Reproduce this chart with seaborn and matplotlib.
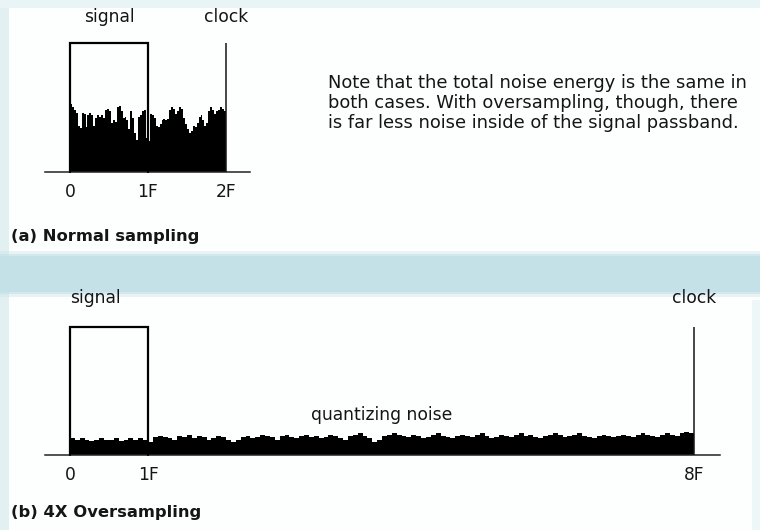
import matplotlib
matplotlib.use("Agg")
import matplotlib.pyplot as plt
from matplotlib.patches import Rectangle
import numpy as np
import pandas as pd
import seaborn as sns

# ---- data -------------------------------------------------------------
signal_band = [0.0, 1.0]          # passband, in units of F
signal_level = 1.0

# (a) normal sampling: noise spread from 0 to 2F, clock at 2F
clock_a = 2.0
noise_a = [
    0.53, 0.50, 0.48, 0.46, 0.36, 0.34, 0.46, 0.45, 0.35, 0.44,
    0.46, 0.44, 0.36, 0.42, 0.44, 0.43, 0.44, 0.42, 0.48, 0.49,
    0.47, 0.38, 0.40, 0.39, 0.50, 0.51, 0.47, 0.42, 0.43, 0.40,
    0.33, 0.47, 0.42, 0.30, 0.25, 0.43, 0.44, 0.47, 0.48, 0.26,
    0.24, 0.45, 0.44, 0.42, 0.36, 0.35, 0.37, 0.40, 0.41, 0.40,
    0.41, 0.48, 0.50, 0.49, 0.45, 0.47, 0.50, 0.49, 0.42, 0.37,
    0.33, 0.30, 0.32, 0.36, 0.35, 0.38, 0.43, 0.44, 0.40, 0.36,
    0.38, 0.47, 0.50, 0.48, 0.45, 0.47, 0.48, 0.50, 0.49, 0.47,
]
ticks_a = [0, 1, 2]
ticklabels_a = ["0", "1F", "2F"]

# (b) 4x oversampling: same noise energy spread from 0 to 8F, clock at 8F
clock_b = 8.0
noise_b = [
    0.13, 0.12, 0.13, 0.12, 0.11, 0.12, 0.13, 0.12, 0.12, 0.13, 0.11, 0.12, 0.13, 0.12, 0.13, 0.12,
    0.10, 0.14, 0.15, 0.14, 0.13, 0.12, 0.15, 0.14, 0.16, 0.13, 0.15, 0.14, 0.12, 0.13, 0.15, 0.14,
    0.12, 0.10, 0.12, 0.14, 0.15, 0.13, 0.14, 0.16, 0.15, 0.14, 0.12, 0.15, 0.16, 0.14, 0.13, 0.15,
    0.16, 0.14, 0.15, 0.13, 0.14, 0.16, 0.15, 0.13, 0.12, 0.15, 0.16, 0.17, 0.15, 0.13, 0.10, 0.12,
    0.15, 0.16, 0.17, 0.16, 0.15, 0.14, 0.16, 0.15, 0.13, 0.14, 0.16, 0.17, 0.15, 0.14, 0.13, 0.15,
    0.16, 0.15, 0.14, 0.16, 0.17, 0.15, 0.13, 0.14, 0.16, 0.15, 0.14, 0.16, 0.17, 0.15, 0.16, 0.14,
    0.13, 0.15, 0.16, 0.17, 0.16, 0.14, 0.15, 0.16, 0.17, 0.15, 0.14, 0.13, 0.15, 0.16, 0.15, 0.14,
    0.15, 0.16, 0.15, 0.14, 0.16, 0.17, 0.16, 0.15, 0.14, 0.16, 0.17, 0.16, 0.15, 0.17, 0.18, 0.17,
]
ticks_b = [0, 1, 8]
ticklabels_b = ["0", "1F", "8F"]

note_lines = [
    "Note that the total noise energy is the same in",
    "both cases. With oversampling, though, there",
    "is far less noise inside of the signal passband.",
]

# ---- style ------------------------------------------------------------
sns.set_theme(style="white")
plt.rcParams["font.family"] = ["DejaVu Sans"]

INK = "#151515"
FS = 12.3

W, H = 760, 530
fig = plt.figure(figsize=(W / 100, H / 100), dpi=100)
fig.patch.set_facecolor("#fdfefe")


def rect(x0, x1, ytop, ybot):
    return [x0 / W, 1 - ybot / H, (x1 - x0) / W, (ybot - ytop) / H]


def fig_band(ytop, ybot, color, alpha=1.0, x0=0, x1=W):
    fig.patches.append(Rectangle((x0 / W, 1 - ybot / H), (x1 - x0) / W, (ybot - ytop) / H,
                                 transform=fig.transFigure, color=color, alpha=alpha,
                                 lw=0, zorder=-5))


# pale tinted margins and the band between the two panels
fig_band(0, H, "#e2f0f2", x1=9)
fig_band(0, 8, "#e8f4f5")
fig_band(300, H, "#eef7f8", x0=752)
fig_band(251, 297, "#c4e1e8", alpha=0.35)
fig_band(254, 294, "#c4e1e8", alpha=0.6)
fig_band(256, 292, "#c4e1e8")


def panel(ax, noise, clock, ticks, ticklabels, xmax):
    n = len(noise)
    step = clock / n
    df = pd.DataFrame({"freq": np.arange(n) * step + step / 2, "level": noise})
    sns.barplot(data=df, x="freq", y="level", native_scale=True, width=1.0,
                color="black", linewidth=0, saturation=1, errorbar=None, ax=ax)
    # signal passband outline
    x0, x1 = signal_band
    ax.plot([x0, x0, x1, x1], [0, signal_level, signal_level, 0],
            color="black", lw=1.6, solid_joinstyle="miter", clip_on=False, zorder=3)
    # clock line
    ax.vlines(clock, 0, signal_level, color=INK, lw=1.1, clip_on=False, zorder=3)

    ax.set_xlim(-0.32, xmax)
    ax.set_ylim(0, 1)
    ax.set_facecolor("none")
    for s in ["top", "left", "right"]:
        ax.spines[s].set_visible(False)
    ax.spines["bottom"].set_color("#222222")
    ax.spines["bottom"].set_linewidth(1.1)
    ax.set_yticks([])
    ax.set_xticks(ticks)
    ax.set_xticklabels(ticklabels, fontsize=FS, color=INK)
    ax.tick_params(axis="x", length=0, pad=8)
    ax.set_xlabel("")
    ax.set_ylabel("")


ax_a = fig.add_axes(rect(45, 250, 43, 172))
panel(ax_a, noise_a, clock_a, ticks_a, ticklabels_a, 2.31)
ax_a.text(0.5, 1.2, "signal", ha="center", va="center", fontsize=FS, color=INK)
ax_a.text(clock_a, 1.2, "clock", ha="center", va="center", fontsize=FS, color=INK)

ax_b = fig.add_axes(rect(45, 720, 327, 455))
panel(ax_b, noise_b, clock_b, ticks_b, ticklabels_b, 8.33)
ax_b.text(0.33, 1.23, "signal", ha="center", va="center", fontsize=FS, color=INK)
ax_b.text(clock_b, 1.23, "clock", ha="center", va="center", fontsize=FS, color=INK)
ax_b.text(4.0, 0.31, "quantizing noise", ha="center", va="center", fontsize=FS,
          color=INK)

# panel captions
fig.text(11 / W, 1 - 237 / H, "(a) Normal sampling", ha="left", va="center",
         fontsize=11.8, fontweight="bold", color=INK)
fig.text(11 / W, 1 - 513 / H, "(b) 4X Oversampling", ha="left", va="center",
         fontsize=11.8, fontweight="bold", color=INK)

# explanatory note
for i, line in enumerate(note_lines):
    fig.text(328 / W, 1 - (83 + 20 * i) / H, line, ha="left", va="center",
             fontsize=12.9, color=INK)

fig.savefig("out.png", dpi=100, facecolor=fig.get_facecolor())
